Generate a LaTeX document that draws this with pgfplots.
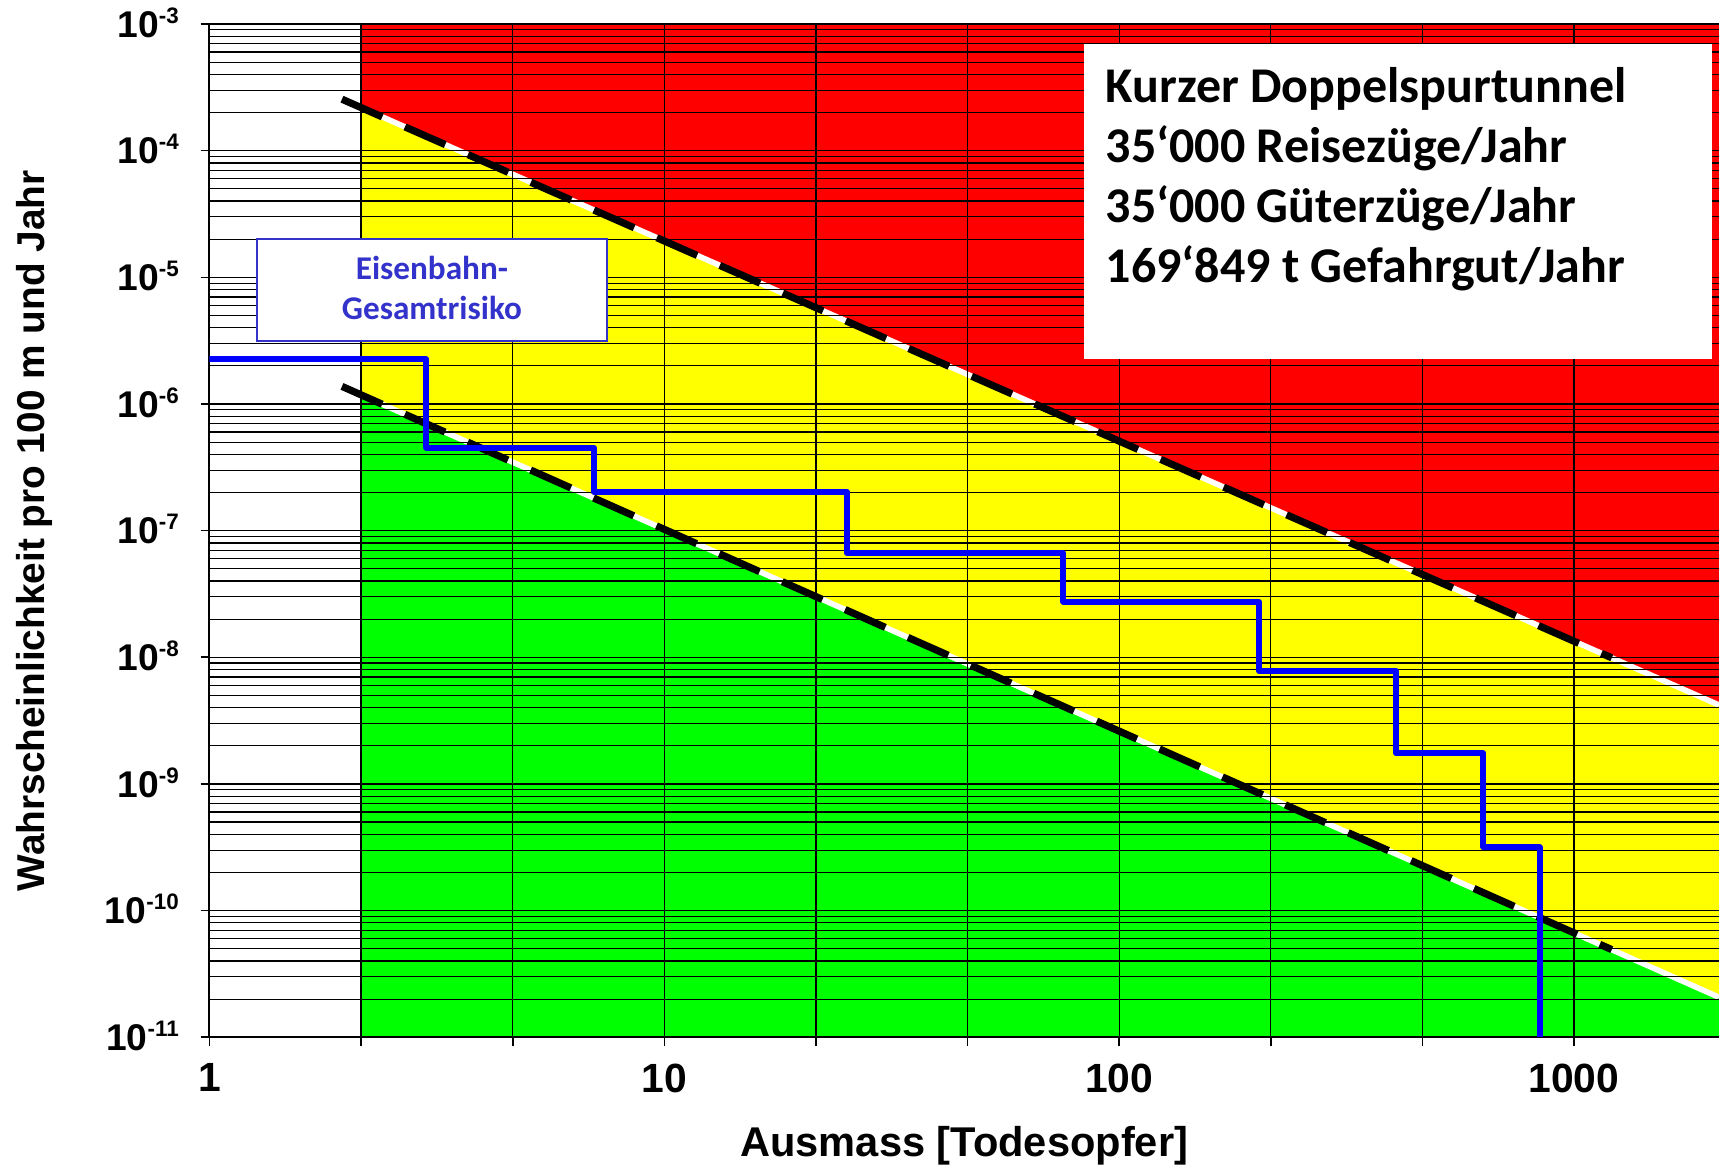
\documentclass[border=0pt]{standalone}
\usepackage{fontspec}
\setmainfont{Liberation Sans}
\newfontfamily\calibri{Carlito}
\usepackage{pgfplots}
\pgfplotsset{compat=1.18}
\definecolor{cred}{RGB}{255,0,0}
\definecolor{cyellow}{RGB}{255,255,0}
\definecolor{cgreen}{RGB}{0,255,0}
\definecolor{cblue}{RGB}{0,0,255}
\definecolor{boxblue}{RGB}{51,51,204}
\newcommand\tl[1]{10\raisebox{3.5pt}{\fontsize{5.6}{6}\selectfont -#1}}
\begin{document}
\begin{tikzpicture}
\begin{axis}[
  name=ax,
  set layers,
  scale only axis,
  width=377.375pt, height=253.325pt,
  xmode=log, ymode=log,
  xmin=1, xmax=2084, ymin=1e-11, ymax=1e-3,
  axis x line*=bottom, axis y line*=left,
  axis line style={black, line width=0.5pt},
  tick align=outside,
  major tick length=2.25pt, minor tick length=0pt,
  every tick/.style={black, line width=0.4pt},
  xtick={1,2.15443,4.64159,10,21.5443,46.4159,100,215.443,464.159,1000},
  xticklabels={1,,,10,,,100,,,1000},
  ytick={1e-11,1e-10,1e-9,1e-8,1e-7,1e-6,1e-5,1e-4,1e-3},
  yticklabels={\tl{11},\tl{10},\tl{9},\tl{8},\tl{7},\tl{6},\tl{5},\tl{4},\tl{3}},
  minor ytick={2e-11,3e-11,4e-11,5e-11,6e-11,7e-11,8e-11,9e-11,
    2e-10,3e-10,4e-10,5e-10,6e-10,7e-10,8e-10,9e-10,
    2e-9,3e-9,4e-9,5e-9,6e-9,7e-9,8e-9,9e-9,
    2e-8,3e-8,4e-8,5e-8,6e-8,7e-8,8e-8,9e-8,
    2e-7,3e-7,4e-7,5e-7,6e-7,7e-7,8e-7,9e-7,
    2e-6,3e-6,4e-6,5e-6,6e-6,7e-6,8e-6,9e-6,
    2e-5,3e-5,4e-5,5e-5,6e-5,7e-5,8e-5,9e-5,
    2e-4,3e-4,4e-4,5e-4,6e-4,7e-4,8e-4,9e-4},
  xmajorgrids, ymajorgrids, yminorgrids,
  major grid style={black, line width=0.3pt},
  minor grid style={black, line width=0.3pt},
  tick label style={inner sep=0pt},
  yticklabel style={font=\bfseries\fontsize{9.3}{10}\selectfont, anchor=base east, xshift=-5.25pt, yshift=-3.3pt},
  xticklabel style={font=\bfseries\fontsize{10.2}{11}\selectfont, anchor=north, yshift=-4.15pt},
  xlabel={Ausmass [Todesopfer]},
  ylabel={Wahrscheinlichkeit pro 100 m und Jahr},
  every axis x label/.style={at={([yshift=-29.85pt]axis description cs:0.5,0)}, anchor=base, inner sep=0pt, font=\bfseries\fontsize{10.4}{12}\selectfont},
  every axis y label/.style={at={([xshift=-48.4pt]axis description cs:0,0.5)}, rotate=90, anchor=north, inner sep=0pt, font=\bfseries\fontsize{9.7}{12}\selectfont},
]
% coloured zones
\addplot[on layer=axis background, fill=cyellow, draw=none, mark=none] coordinates {(2.15443,1e-11) (2084,1e-11) (2084,1e-3) (2.15443,1e-3)};
\addplot[on layer=axis background, fill=cred, draw=none, mark=none] coordinates {(2.15443,1e-3) (2084,1e-3) (2084,4.20e-9) (2.15443,2.188e-4)};
\addplot[on layer=axis background, fill=cgreen, draw=none, mark=none] coordinates {(2.15443,1.180e-6) (2084,2.07e-11) (2084,1e-11) (2.15443,1e-11)};
\addplot[on layer=axis background, white, line width=1.4pt, mark=none] coordinates {(2.15443,2.188e-4) (2084,4.20e-9)};
\addplot[on layer=axis background, white, line width=1.4pt, mark=none] coordinates {(2.15443,1.180e-6) (2084,2.07e-11)};
% limit lines
\addplot[black, line width=1.8pt, dash pattern=on 11pt off 6.2pt, mark=none] coordinates {(1.956,2.549e-4) (1211,9.90e-9)};
\addplot[black, line width=1.8pt, dash pattern=on 11pt off 6.2pt, mark=none] coordinates {(1.956,1.377e-6) (1211,4.92e-11)};
% total risk
\addplot[cblue, line width=1.5pt, mark=none, line join=round] coordinates {(1,2.25e-6) (3.0,2.25e-6) (3.0,4.52e-7) (7.0,4.52e-7) (7.0,2.03e-7) (25.2,2.03e-7) (25.2,6.63e-8) (75.4,6.63e-8) (75.4,2.75e-8) (203,2.75e-8) (203,7.85e-9) (406,7.85e-9) (406,1.75e-9) (632,1.75e-9) (632,3.16e-10) (840,3.16e-10) (840,1e-11)};
\end{axis}
% info box
\fill[white] ([shift={(218.625pt,-5pt)}]ax.north west) rectangle ([shift={(375.75pt,-83.75pt)}]ax.north west);
\begin{scope}[every node/.style={anchor=base west, inner sep=0pt, font=\calibri\bfseries\fontsize{12.5}{15}\selectfont}]
\node at ([shift={(223.9pt,-19.7pt)}]ax.north west) {Kurzer Doppelspurtunnel};
\node at ([shift={(223.9pt,-34.7pt)}]ax.north west) {35‘000 Reisezüge/Jahr};
\node at ([shift={(223.9pt,-49.7pt)}]ax.north west) {35‘000 Güterzüge/Jahr};
\node at ([shift={(223.9pt,-64.7pt)}]ax.north west) {169‘849 t Gefahrgut/Jahr};
\end{scope}
% label box
\draw[boxblue, line width=0.5pt, fill=white] ([shift={(11.875pt,-53.75pt)}]ax.north west) rectangle ([shift={(99.375pt,-79.25pt)}]ax.north west);
\begin{scope}[every node/.style={anchor=base, inner sep=0pt, text=boxblue, font=\calibri\bfseries\fontsize{8.3}{10}\selectfont}]
\node at ([shift={(55.6pt,-63.8pt)}]ax.north west) {Eisenbahn-};
\node at ([shift={(55.6pt,-73.8pt)}]ax.north west) {Gesamtrisiko};
\end{scope}
\pgfresetboundingbox
\path ([shift={(-52.375pt,-32.175pt)}]ax.south west) rectangle ([shift={(0pt,6pt)}]ax.north east);
\end{tikzpicture}
\end{document}
